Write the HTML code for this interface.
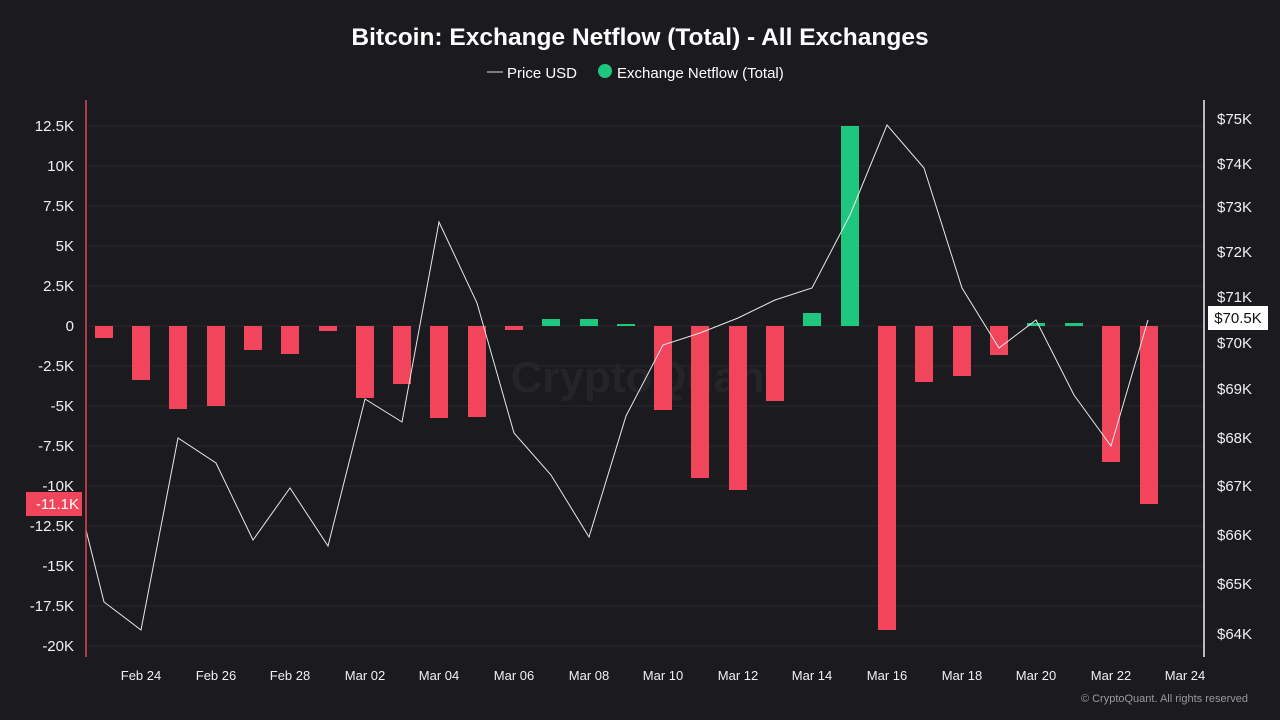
<!DOCTYPE html>
<html><head><meta charset="utf-8"><style>
html,body{margin:0;padding:0;background:#1b1a1f;}
svg{display:block;font-family:"Liberation Sans",Arial,sans-serif;}
</style></head><body>
<svg width="1280" height="720" viewBox="0 0 1280 720" xmlns="http://www.w3.org/2000/svg">
<rect width="1280" height="720" fill="#1b1a1f"/>
<text x="640" y="45" text-anchor="middle" fill="#fff" font-size="24.5" font-weight="bold">Bitcoin: Exchange Netflow (Total) - All Exchanges</text>
<line x1="487" y1="72" x2="503" y2="72" stroke="#ddd" stroke-width="1"/>
<text x="507" y="78" fill="#fff" font-size="15">Price USD</text>
<circle cx="605" cy="71" r="7" fill="#1fc77e"/>
<text x="617" y="78" fill="#fff" font-size="15">Exchange Netflow (Total)</text>
<g stroke="#29282d" stroke-width="1">
<line x1="86" x2="1204" y1="126" y2="126"/><line x1="86" x2="1204" y1="166" y2="166"/><line x1="86" x2="1204" y1="206" y2="206"/><line x1="86" x2="1204" y1="246" y2="246"/><line x1="86" x2="1204" y1="286" y2="286"/><line x1="86" x2="1204" y1="326" y2="326"/><line x1="86" x2="1204" y1="366" y2="366"/><line x1="86" x2="1204" y1="406" y2="406"/><line x1="86" x2="1204" y1="446" y2="446"/><line x1="86" x2="1204" y1="486" y2="486"/><line x1="86" x2="1204" y1="526" y2="526"/><line x1="86" x2="1204" y1="566" y2="566"/><line x1="86" x2="1204" y1="606" y2="606"/><line x1="86" x2="1204" y1="646" y2="646"/>
</g>
<text x="645" y="392" text-anchor="middle" fill="#252429" font-size="44" font-weight="bold">CryptoQuant</text>
<g fill="#f0f0f0" font-size="15" text-anchor="end">
<text x="74" y="131">12.5K</text><text x="74" y="171">10K</text><text x="74" y="211">7.5K</text><text x="74" y="251">5K</text><text x="74" y="291">2.5K</text><text x="74" y="331">0</text><text x="74" y="371">-2.5K</text><text x="74" y="411">-5K</text><text x="74" y="451">-7.5K</text><text x="74" y="491">-10K</text><text x="74" y="531">-12.5K</text><text x="74" y="571">-15K</text><text x="74" y="611">-17.5K</text><text x="74" y="651">-20K</text>
</g>
<g fill="#f0f0f0" font-size="15">
<text x="1217" y="124">$75K</text><text x="1217" y="169">$74K</text><text x="1217" y="212">$73K</text><text x="1217" y="257">$72K</text><text x="1217" y="302">$71K</text><text x="1217" y="348">$70K</text><text x="1217" y="394">$69K</text><text x="1217" y="443">$68K</text><text x="1217" y="491">$67K</text><text x="1217" y="540">$66K</text><text x="1217" y="589">$65K</text><text x="1217" y="639">$64K</text>
</g>
<g fill="#f0f0f0" font-size="13" text-anchor="middle">
<text x="141" y="680">Feb 24</text><text x="216" y="680">Feb 26</text><text x="290" y="680">Feb 28</text><text x="365" y="680">Mar 02</text><text x="439" y="680">Mar 04</text><text x="514" y="680">Mar 06</text><text x="589" y="680">Mar 08</text><text x="663" y="680">Mar 10</text><text x="738" y="680">Mar 12</text><text x="812" y="680">Mar 14</text><text x="887" y="680">Mar 16</text><text x="962" y="680">Mar 18</text><text x="1036" y="680">Mar 20</text><text x="1111" y="680">Mar 22</text><text x="1185" y="680">Mar 24</text>
</g>
<g fill="#f0455a">
<rect x="95" y="326" width="18" height="12"/>
<rect x="132" y="326" width="18" height="54"/>
<rect x="169" y="326" width="18" height="83"/>
<rect x="207" y="326" width="18" height="80"/>
<rect x="244" y="326" width="18" height="24"/>
<rect x="281" y="326" width="18" height="28"/>
<rect x="319" y="326" width="18" height="5"/>
<rect x="356" y="326" width="18" height="72"/>
<rect x="393" y="326" width="18" height="58"/>
<rect x="430" y="326" width="18" height="92"/>
<rect x="468" y="326" width="18" height="91"/>
<rect x="505" y="326" width="18" height="4"/>
<rect x="654" y="326" width="18" height="84"/>
<rect x="691" y="326" width="18" height="152"/>
<rect x="729" y="326" width="18" height="164"/>
<rect x="766" y="326" width="18" height="75"/>
<rect x="878" y="326" width="18" height="304"/>
<rect x="915" y="326" width="18" height="56"/>
<rect x="953" y="326" width="18" height="50"/>
<rect x="990" y="326" width="18" height="29"/>
<rect x="1102" y="326" width="18" height="136"/>
<rect x="1140" y="326" width="18" height="178"/>
</g>
<g fill="#1fc77e">
<rect x="542" y="319" width="18" height="7"/>
<rect x="580" y="319" width="18" height="7"/>
<rect x="617" y="324" width="18" height="2"/>
<rect x="803" y="313" width="18" height="13"/>
<rect x="841" y="126" width="18" height="200"/>
<rect x="1027" y="323" width="18" height="3"/>
<rect x="1065" y="323" width="18" height="3"/>
</g>
<polyline fill="none" stroke="#e8e8e8" stroke-width="1" points="86,530 104,602 141,630 178,438 216,463 253,540 290,488 328,546 365,399 402,422 439,222 477,303 514,433 551,475 589,537 626,416 663,345 700,333 738,318 775,300 812,288 850,215 887,125 924,168 962,288 999,348 1036,320 1074,395 1111,446 1148,320"/>
<line x1="86" y1="100" x2="86" y2="657" stroke="#e0455a" stroke-width="1.5"/>
<line x1="1204" y1="100" x2="1204" y2="657" stroke="#f0f0f0" stroke-width="1.5"/>
<rect x="26" y="492" width="56" height="24" fill="#f0455a"/>
<text x="79" y="509" text-anchor="end" fill="#fff" font-size="15">-11.1K</text>
<rect x="1208" y="306" width="60" height="24" fill="#fff"/>
<text x="1238" y="323" text-anchor="middle" fill="#111" font-size="15">$70.5K</text>
<text x="1248" y="702" text-anchor="end" fill="#9a9a9a" font-size="11">© CryptoQuant. All rights reserved</text>
</svg>
</body></html>
